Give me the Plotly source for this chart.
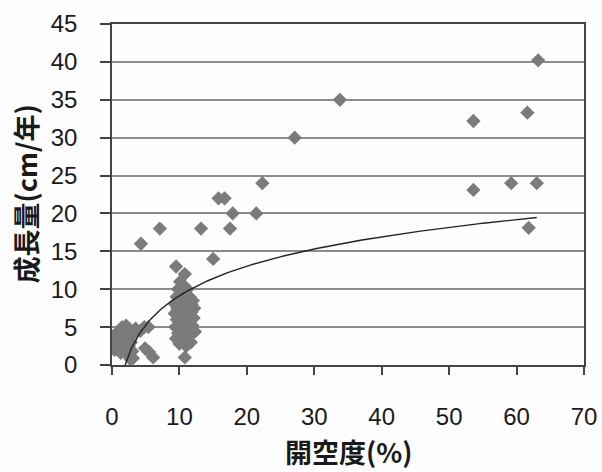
import numpy as np
import plotly.graph_objects as go

# Scatter data: 開空度 (%) vs 成長量 (cm/年)
openness = [
    0.3, 0.5, 0.6, 0.8, 1.0, 1.0, 1.2, 1.4, 1.5, 1.6, 1.8, 1.9, 2.0, 2.2, 2.4, 2.5, 2.7, 2.8, 3.0, 3.1,
    3.3, 3.5, 0.4, 1.3, 2.1,
    4.2, 4.8, 5.4, 4.9, 5.5, 6.1, 4.3, 7.1,
    9.5, 10.8, 10.1, 10.5, 9.8, 11.2, 10.3, 11.5, 9.6, 10.7, 12.0, 9.4, 10.4, 11.3, 12.2, 9.7, 10.9, 11.8,
    9.3, 10.2, 11.4, 12.1, 9.6, 10.6, 11.0, 11.9, 9.4, 10.2, 11.5, 12.3, 9.8, 10.8, 11.2, 9.5, 10.4, 11.7,
    10.0, 11.0, 10.8, 11.8, 10.0, 10.6,
    13.2, 15.0, 15.8, 16.7, 17.5, 17.9, 21.4, 22.3, 27.1, 33.8,
    53.6, 53.6, 59.2, 61.6, 61.8, 63.0, 63.2,
]
growth = [
    3.5, 2.5, 4.0, 3.0, 2.0, 4.5, 3.5, 2.8, 5.0, 4.0, 2.2, 3.2, 4.5, 1.5, 3.8, 2.5, 0.8, 3.0, 1.8, 0.9,
    4.2, 4.8, 2.0, 1.6, 5.2,
    4.5, 5.0, 5.0, 2.2, 1.7, 1.0, 16.0, 18.0,
    13.0, 12.0, 11.0, 10.5, 10.0, 10.0, 9.5, 9.0, 9.0, 8.8, 8.5, 8.0, 8.0, 8.0, 7.5, 7.5, 7.2, 7.0,
    6.8, 6.5, 6.3, 6.2, 6.0, 5.8, 5.5, 5.2, 5.0, 4.8, 4.6, 4.4, 4.2, 4.0, 3.6, 3.5, 3.2, 3.0,
    2.8, 2.5, 1.0, 8.0, 7.0, 3.0,
    18.0, 14.0, 22.0, 22.0, 18.0, 20.0, 20.0, 24.0, 30.0, 35.0,
    32.2, 23.1, 24.0, 33.3, 18.1, 24.0, 40.2,
]

# Logarithmic trendline y = a*ln(x) + b (coefficients)
trend_a = 5.6
trend_b = -3.74
trend_x_range = [1.95, 63.0]

x_ticks = [0, 10, 20, 30, 40, 50, 60, 70]
y_ticks = [0, 5, 10, 15, 20, 25, 30, 35, 40, 45]

x_title = "開空度(%)"
y_title = "成長量(cm/年)"

tx = np.linspace(trend_x_range[0], trend_x_range[1], 300)
ty = trend_a * np.log(tx) + trend_b

fig = go.Figure()
fig.add_trace(go.Scatter(
    x=openness, y=growth, mode="markers",
    marker=dict(symbol="diamond", size=11, color="#7b7b7b", line=dict(width=0)),
    showlegend=False,
))
fig.add_trace(go.Scatter(
    x=tx, y=ty, mode="lines",
    line=dict(color="#222222", width=1.4),
    showlegend=False,
))

tick_font = dict(family="Liberation Sans, Arial, sans-serif", size=24, color="#1a1a1a")
title_font = dict(family="Noto Sans CJK JP, sans-serif", size=27, color="#1a1a1a")

# plot area: left 112, right 584, top 24, bottom 365 (px)
fig.update_layout(
    width=602, height=472,
    margin=dict(l=112, r=18, t=24, b=107, autoexpand=False),
    paper_bgcolor="#fdfdfd", plot_bgcolor="#fdfdfd",
    xaxis=dict(
        range=[0, 70], tickvals=x_ticks, ticktext=[str(v) for v in x_ticks],
        showgrid=False, zeroline=False, automargin=False,
        showline=True, linecolor="#444444", linewidth=1.5, mirror=True,
        ticks="outside", ticklen=8, tickcolor="#444444", tickwidth=1.5,
        tickfont=tick_font, ticklabelstandoff=21,
    ),
    yaxis=dict(
        range=[0, 45], tickvals=y_ticks, ticktext=[str(v) for v in y_ticks],
        showgrid=True, gridcolor="#8c8c8c", gridwidth=1.5, zeroline=False, automargin=False,
        showline=True, linecolor="#444444", linewidth=1.5, mirror=True,
        ticks="outside", ticklen=10, tickcolor="#444444", tickwidth=1.5,
        tickfont=tick_font, ticklabelstandoff=18,
    ),
    annotations=[
        dict(text="<b>" + x_title + "</b>", xref="paper", yref="paper",
             x=0.5, y=(365 - 451) / 341, xanchor="center", yanchor="middle",
             showarrow=False, font=title_font),
        dict(text="<b>" + y_title + "</b>", xref="paper", yref="paper",
             x=(25 - 112) / 472, y=0.5, xanchor="center", yanchor="middle",
             textangle=-90, showarrow=False, font=title_font),
    ],
)

fig.write_html("out.html", config={"displayModeBar": False},
               post_script="document.body.style.margin='0';")
